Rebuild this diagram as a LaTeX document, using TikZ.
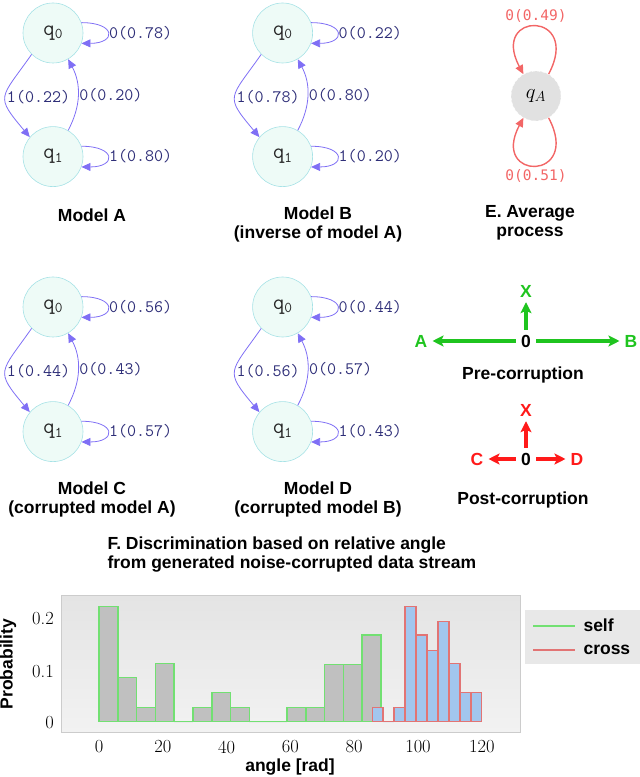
\documentclass[tikz,border=0pt]{standalone}
\usepackage{fontspec}
\setsansfont{Liberation Sans}
\newfontfamily\avgfont{DejaVu Sans Mono}
\usetikzlibrary{automata,positioning,arrows.meta}

\definecolor{stfill}{HTML}{EEFBF7}
\definecolor{stdraw}{HTML}{A6E2E6}
\definecolor{edgeblue}{HTML}{7F6FF5}
\definecolor{lblnavy}{HTML}{2E2E78}
\definecolor{avgred}{HTML}{F26666}
\definecolor{avggray}{HTML}{E1E1E1}
\definecolor{pregreen}{HTML}{1FC41F}
\definecolor{postred}{HTML}{FF1A1A}
\definecolor{selfgreen}{HTML}{72E072}
\definecolor{selfgray}{HTML}{C0C0C0}
\definecolor{crossred}{HTML}{E27474}
\definecolor{crossblue}{HTML}{A2C6EE}
\definecolor{plottop}{HTML}{E4E4E4}
\definecolor{plotbottom}{HTML}{F2F2F2}
\definecolor{plotframe}{HTML}{CCCCCC}
\definecolor{legendbg}{HTML}{E8E8E8}

\newcommand{\qsub}[1]{{\fontsize{22}{22}\selectfont q}\raisebox{-3.5pt}{\fontsize{15}{15}\selectfont #1}}

\tikzset{
  every state/.style={draw=stdraw, fill=stfill, line width=0.6pt, minimum size=60pt, inner sep=0pt, text=black!85, font=\ttfamily},
  prob/.style={font=\fontsize{17.5}{17.5}\selectfont\ttfamily, text=lblnavy, inner sep=1pt},
  caption/.style={font=\fontsize{17.5}{19}\selectfont\sffamily\bfseries, align=center},
  avgstate/.style={circle, draw=white, densely dashed, fill=avggray, minimum size=50pt, inner sep=0pt, font=\fontsize{20}{20}\selectfont},
  avgprob/.style={font=\fontsize{14.5}{14.5}\selectfont\avgfont, text=avgred},
  dirlbl/.style={font=\fontsize{17.5}{17.5}\selectfont\sffamily\bfseries, inner sep=5pt},
  dirarrow/.style={-{Stealth[length=11pt,width=11pt,inset=2.5pt]}, line width=3.4pt},
  ticklbl/.style={font=\fontsize{18.5}{18.5}\selectfont, inner sep=0pt},
  axislbl/.style={font=\fontsize{17.5}{17.5}\selectfont\sffamily\bfseries},
  selfbar/.style={draw=selfgreen, fill=selfgray, line width=1.5pt},
  crossbar/.style={draw=crossred, fill=crossblue, line width=1.5pt},
}

\begin{document}
\begin{tikzpicture}[x=1pt,y=1pt,>={Triangle[length=9pt,width=8pt]}]
\useasboundingbox (0,0) rectangle (640,777);

% model A
\node[state] (qA_0) at (53,744) {\qsub{0}};
\node[state] (qA_1) [below=63pt of qA_0] {\qsub{1}};
\path[->, edgeblue, line width=0.8pt]
  (qA_0.20) edge [out=0, in=0, distance=35pt] node[prob, right] {0(0.78)} (qA_0.-20)
  (qA_0.225) edge [out=235, in=130, distance=55pt] node[prob, right] {1(0.22)} (qA_1.140)
  (qA_1.60) edge [bend right=28] node[prob, right] {0(0.20)} (qA_0.300)
  (qA_1.20) edge [out=0, in=0, distance=35pt] node[prob, right] {1(0.80)} (qA_1.-20);
\node[caption] (capA) at (92,562) {Model A};

% model B
\node[state] (qB_0) [right=169pt of qA_0] {\qsub{0}};
\node[state] (qB_1) [below=63pt of qB_0] {\qsub{1}};
\path[->, edgeblue, line width=0.8pt]
  (qB_0.20) edge [out=0, in=0, distance=35pt] node[prob, right] {0(0.22)} (qB_0.-20)
  (qB_0.225) edge [out=235, in=130, distance=55pt] node[prob, right] {1(0.78)} (qB_1.140)
  (qB_1.60) edge [bend right=28] node[prob, right] {0(0.80)} (qB_0.300)
  (qB_1.20) edge [out=0, in=0, distance=35pt] node[prob, right] {1(0.20)} (qB_1.-20);
\node[caption] (capB) at (318,553) {Model B\\(inverse of model A)};

% model C
\node[state] (qC_0) at (53,470) {\qsub{0}};
\node[state] (qC_1) [below=64pt of qC_0] {\qsub{1}};
\path[->, edgeblue, line width=0.8pt]
  (qC_0.20) edge [out=0, in=0, distance=35pt] node[prob, right] {0(0.56)} (qC_0.-20)
  (qC_0.225) edge [out=235, in=130, distance=55pt] node[prob, right] {1(0.44)} (qC_1.140)
  (qC_1.60) edge [bend right=28] node[prob, right] {0(0.43)} (qC_0.300)
  (qC_1.20) edge [out=0, in=0, distance=35pt] node[prob, right] {1(0.57)} (qC_1.-20);
\node[caption] (capC) at (92,278) {Model C\\(corrupted model A)};

% model D
\node[state] (qD_0) [right=169pt of qC_0] {\qsub{0}};
\node[state] (qD_1) [below=64pt of qD_0] {\qsub{1}};
\path[->, edgeblue, line width=0.8pt]
  (qD_0.20) edge [out=0, in=0, distance=35pt] node[prob, right] {0(0.44)} (qD_0.-20)
  (qD_0.225) edge [out=235, in=130, distance=55pt] node[prob, right] {1(0.56)} (qD_1.140)
  (qD_1.60) edge [bend right=28] node[prob, right] {0(0.57)} (qD_0.300)
  (qD_1.20) edge [out=0, in=0, distance=35pt] node[prob, right] {1(0.43)} (qD_1.-20);
\node[caption] (capD) at (318,278) {Model D\\(corrupted model B)};

% E. average process
\node[avgstate] (qE) at (536,681) {$q_A$};
\path[->, avgred, line width=1.4pt]
  (qE.60) edge [out=62, in=118, distance=72pt] node[avgprob, above] {0(0.49)} (qE.120)
  (qE.-60) edge [out=-62, in=-118, distance=72pt] node[avgprob, below] {0(0.51)} (qE.-120);
\node[caption] (capE) at (530,554) {E. Average\\process};

% pre-corruption
\node[dirlbl] (pre_0) at (526,436) {0};
\node[dirlbl, text=pregreen] (pre_A) at (421,436) {A};
\node[dirlbl, text=pregreen] (pre_B) at (631,436) {B};
\node[dirlbl, text=pregreen] (pre_X) at (526,486) {X};
\draw[dirarrow, pregreen] (pre_0) -- (pre_A);
\draw[dirarrow, pregreen] (pre_0) -- (pre_B);
\draw[dirarrow, pregreen] (pre_0) -- (pre_X);
\node[caption] (capPre) at (523,402) {Pre-corruption};

% post-corruption
\node[dirlbl] (post_0) at (526,318) {0};
\node[dirlbl, text=postred] (post_C) at (477,318) {C};
\node[dirlbl, text=postred] (post_D) at (577,318) {D};
\node[dirlbl, text=postred] (post_X) at (526,367) {X};
\draw[dirarrow, postred] (post_0) -- (post_C);
\draw[dirarrow, postred] (post_0) -- (post_D);
\draw[dirarrow, postred] (post_0) -- (post_X);
\node[caption] (capPost) at (523,277) {Post-corruption};

% F. histogram
\node[caption, align=left, anchor=west] (capF) at (104,222.5) {F. Discrimination based on relative angle\\from generated noise-corrupted data stream};
\draw[plotframe, top color=plottop, bottom color=plotbottom] (61,44.7) rectangle (520,181.3);
\foreach \h [count=\i from 0] in {115,44,14.3,58,0,14.3,29.3,14.3,0,0,14.3,14.3,57.3,57.3,86.7}
  \draw[selfbar] ({99+18.8*\i},55.3) rectangle ++(18.8,\h);
\foreach \h [count=\i from 0] in {14.3,0,14.3,115,86.7,71.3,100.3,58,29.3,29.3}
  \draw[crossbar] ({372.3+10.94*\i},55.3) rectangle ++(10.94,\h);
\foreach \a in {0,20,...,120}
  \node[ticklbl] at ({99+3.19*\a},30) {\a};
\node[ticklbl, anchor=east] at (54,158) {0.2};
\node[ticklbl, anchor=east] at (54,105.3) {0.1};
\node[ticklbl, anchor=east] at (54,54.7) {0};
\node[axislbl, rotate=90] (ylbl) at (8,113) {Probability};
\node[axislbl] (xlbl) at (290,10) {angle [rad]};

% legend
\fill[legendbg] (525,113) rectangle (640,167);
\draw[selfgreen, line width=1.8pt] (533,151.3) -- (575,151.3);
\draw[crossred, line width=1.8pt] (533,127) -- (575,127);
\node[axislbl, anchor=west] (legSelf) at (580,151.3) {self};
\node[axislbl, anchor=west] (legCross) at (580,127) {cross};
\end{tikzpicture}
\end{document}
